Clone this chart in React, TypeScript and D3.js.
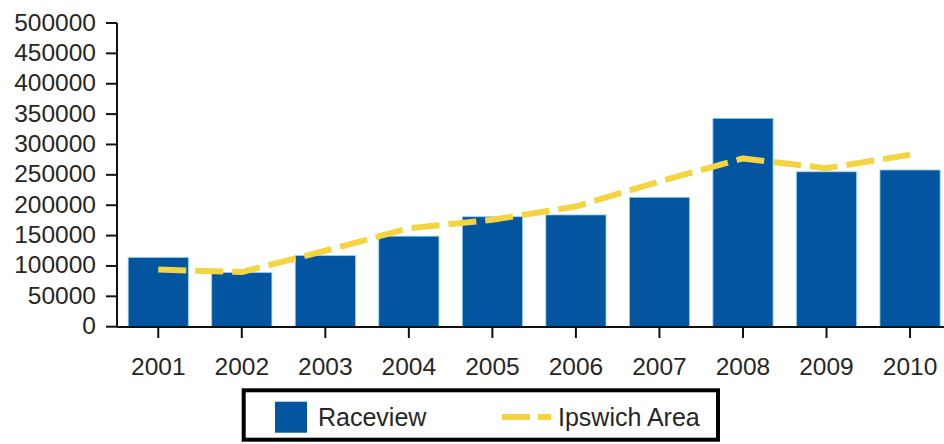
import React from "react";
import * as d3 from "d3";

const years = ["2001", "2002", "2003", "2004", "2005", "2006", "2007", "2008", "2009", "2010"];
const raceview = [114000, 89000, 117000, 149000, 181000, 184000, 213000, 343000, 255000, 258000];
const ipswich = [94000, 90000, 125000, 162000, 176000, 198000, 239000, 277000, 261000, 283000];
const yTicks = [0, 50000, 100000, 150000, 200000, 250000, 300000, 350000, 400000, 450000, 500000];

const BAR = "#03559f";
const LINE = "#f4d440";
const TEXT = "#262626";
const FONT = "'Liberation Sans', Arial, sans-serif";

export default function App() {
    const width = 944;
    const height = 444;
    const axisX = 117;
    const axisY = 327;

    const x = d3.scaleBand()
        .domain(years)
        .range([116.5, 116.5 + 835.3])
        .paddingInner(0.28)
        .paddingOuter(0.14);

    const y = d3.scaleLinear().domain([0, 500000]).range([326.7, 23]);

    const line = d3.line<number>()
        .x((_, i) => x(years[i])! + x.bandwidth() / 2)
        .y(d => y(d));

    return (
        <svg width={width} height={height} style={{ position: "absolute", left: 0, top: 0, background: "white" }}
            fontFamily={FONT}>
            {/* bars */}
            {raceview.map((v, i) => (
                <rect key={years[i]}
                    x={x(years[i])}
                    y={y(v)}
                    width={x.bandwidth()}
                    height={y(0) - y(v)}
                    fill={BAR}
                    stroke="#8ccff2"
                    strokeWidth={0.8}
                />
            ))}

            {/* Ipswich Area line */}
            <path d={line(ipswich) || ""} fill="none" stroke={LINE} strokeWidth={6}
                strokeDasharray="28,9" strokeLinejoin="round" />

            {/* y axis */}
            <line x1={axisX} x2={axisX} y1={y(500000)} y2={axisY} stroke="#111" strokeWidth={2} />
            {yTicks.map(t => (
                <g key={t}>
                    <line x1={axisX - 11} x2={axisX} y1={y(t)} y2={y(t)} stroke="#111" strokeWidth={2} />
                    <text x={96} y={y(t) - 1} textAnchor="end" dominantBaseline="central"
                        fontSize={24.5} fill={TEXT}>{t}</text>
                </g>
            ))}

            {/* x axis */}
            <line x1={axisX} x2={width} y1={axisY} y2={axisY} stroke="#111" strokeWidth={2} />
            {years.map(yr => {
                const cx = x(yr)! + x.bandwidth() / 2;
                return (
                    <g key={yr}>
                        <line x1={cx} x2={cx} y1={axisY} y2={axisY + 11} stroke="#111" strokeWidth={2} />
                        <text x={cx} y={375} textAnchor="middle" fontSize={24.5} fill={TEXT}>{yr}</text>
                    </g>
                );
            })}

            {/* legend */}
            <rect x={243.7} y={390.3} width={474.3} height={49.4} fill="white" stroke="#000" strokeWidth={4} />
            <rect x={275} y={401.7} width={32} height={31} fill={BAR} />
            <text x={318} y={417} dominantBaseline="central" fontSize={25} fill={TEXT}>Raceview</text>
            <line x1={502} x2={551} y1={417} y2={417} stroke={LINE} strokeWidth={6} strokeDasharray="28,8" />
            <text x={558} y={417} dominantBaseline="central" fontSize={25} fill={TEXT}>Ipswich Area</text>
        </svg>
    );
}
